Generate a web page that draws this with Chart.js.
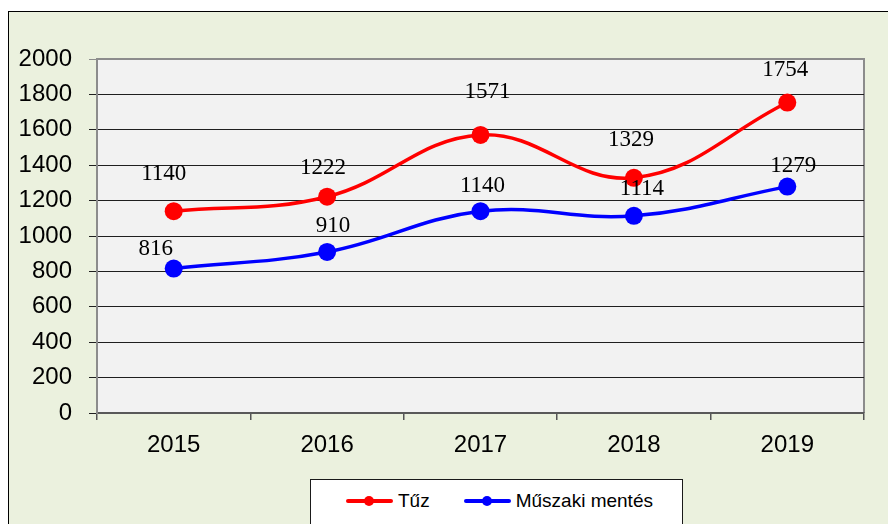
<!DOCTYPE html>
<html>
<head>
<meta charset="utf-8">
<script src="https://cdn.jsdelivr.net/npm/chart.js@4.4.0/dist/chart.umd.min.js"></script>
<style>
body{margin:0;background:#fff;overflow:hidden;font-family:'Liberation Sans',Arial,sans-serif;}
#frame{position:absolute;left:8px;top:11px;width:920px;height:560px;border:1px solid #000;background:#EBF1DE;}
#wrap{position:absolute;left:0;top:0;width:888px;height:524px;}
#legend{position:absolute;left:310px;top:479px;width:373px;height:70px;border:1px solid #1a1a1a;background:#fff;box-sizing:border-box;}
#legend ul{list-style:none;margin:0;padding:9px 0 0 35px;display:flex;gap:34px;}
#legend li{display:flex;align-items:center;font-size:19px;height:24px;color:#000;}
.sym{position:relative;width:47px;height:12px;margin-right:5px;}
.sym::before{content:'';position:absolute;left:0;right:0;top:4px;height:4px;background:currentColor;border-radius:2px;}
.sym::after{content:'';position:absolute;left:18px;top:1px;width:10px;height:10px;border-radius:50%;background:currentColor;}
</style>
</head>
<body>
<div id="frame"></div>
<div id="wrap"><canvas id="chart" width="888" height="524"></canvas></div>
<div id="legend"><ul></ul></div>
<script>
// Data
const years=['2015','2016','2017','2018','2019'];
const tuz=[1140,1222,1571,1329,1754];
const muszaki=[816,910,1140,1114,1279];

// label nudges (px) so the numbers sit like in the original
const tuzDx=[-10,-4,7,-3,-2];
const tuzDy=[37,29,43,38,33];
const muszakiDx=[-18,6,2,8,6];
const muszakiDy=[20,26,25,27,21];

Chart.defaults.font.family="'Liberation Sans', Arial, sans-serif";
Chart.defaults.color='#000';

// grey plot area + its top/right border
const plotArea={
  id:'plotArea',
  beforeDraw(chart){
    const {ctx,chartArea:a}=chart;
    ctx.save();
    ctx.fillStyle='#F2F2F2';
    ctx.fillRect(a.left,a.top,a.width,a.height);
    ctx.strokeStyle='#8c8c8c';
    ctx.lineWidth=2;
    ctx.beginPath();
    ctx.moveTo(a.left,a.top);
    ctx.lineTo(a.right,a.top);
    ctx.lineTo(a.right,a.bottom);
    ctx.stroke();
    ctx.restore();
  }
};

// value labels above the points
const valueLabels={
  id:'valueLabels',
  afterDatasetsDraw(chart){
    const ctx=chart.ctx;
    ctx.save();
    ctx.font='23px "Liberation Serif", "Times New Roman", serif';
    ctx.fillStyle='#000';
    ctx.textAlign='center';
    ctx.textBaseline='middle';
    chart.data.datasets.forEach((ds,i)=>{
      chart.getDatasetMeta(i).data.forEach((pt,j)=>{
        ctx.fillText(ds.data[j],pt.x+ds.labelDx[j],pt.y-ds.labelDy[j]);
      });
    });
    ctx.restore();
  }
};

// boxed legend below the chart
const htmlLegend={
  id:'htmlLegend',
  afterUpdate(chart){
    const ul=document.querySelector('#legend ul');
    ul.innerHTML='';
    Chart.defaults.plugins.legend.labels.generateLabels(chart).forEach(item=>{
      const li=document.createElement('li');
      const sym=document.createElement('span');
      sym.className='sym';
      sym.style.color=item.strokeStyle;
      li.appendChild(sym);
      li.appendChild(document.createTextNode(item.text));
      ul.appendChild(li);
    });
  }
};

new Chart(document.getElementById('chart'),{
  type:'line',
  data:{
    labels:years,
    datasets:[
      {label:'Tűz',data:tuz,borderColor:'#FF0000',backgroundColor:'#FF0000',borderWidth:3.5,tension:0.4,
       pointRadius:9,pointHoverRadius:9,pointBorderWidth:0,labelDx:tuzDx,labelDy:tuzDy},
      {label:'Műszaki mentés',data:muszaki,borderColor:'#0000FF',backgroundColor:'#0000FF',borderWidth:3.5,tension:0.4,
       pointRadius:9,pointHoverRadius:9,pointBorderWidth:0,labelDx:muszakiDx,labelDy:muszakiDy}
    ]
  },
  options:{
    responsive:false,
    animation:false,
    layout:{padding:{top:59,right:24,bottom:71,left:0}},
    plugins:{legend:{display:false},tooltip:{enabled:false}},
    scales:{
      x:{
        offset:true,
        grid:{offset:true,drawOnChartArea:false,drawTicks:true,tickLength:7,color:'#555',lineWidth:1.5},
        border:{color:'#595959',width:2},
        ticks:{font:{size:24},color:'#000',padding:11},
        afterFit(s){s.height=40;}
      },
      y:{
        min:0,max:2000,
        ticks:{stepSize:200,font:{size:24},color:'#000',padding:17,callback:v=>String(v)},
        grid:{tickLength:8,lineWidth:1,color:c=>c.tick&&c.tick.value===2000?'#8c8c8c':'#1f1f1f'},
        border:{color:'#8c8c8c',width:2},
        afterFit(s){s.width=97;}
      }
    }
  },
  plugins:[plotArea,valueLabels,htmlLegend]
});
</script>
</body>
</html>
